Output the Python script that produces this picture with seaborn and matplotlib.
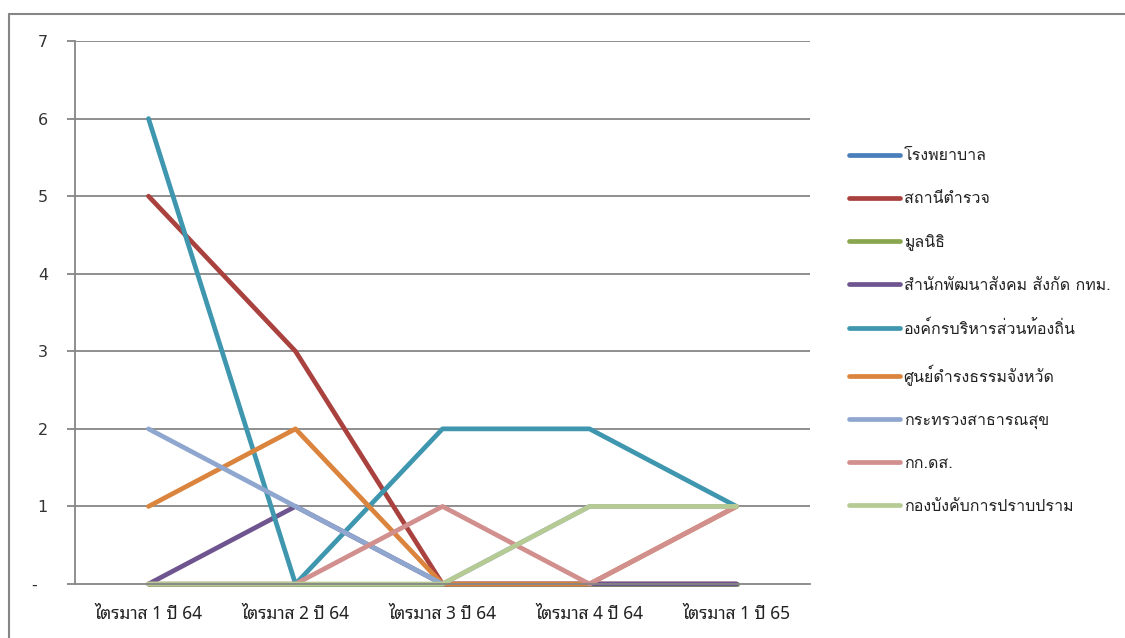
import matplotlib
matplotlib.use("Agg")
import matplotlib.pyplot as plt
from matplotlib.lines import Line2D
import seaborn as sns
import pandas as pd
import numpy as np

# Quarters
quarters = ["ไตรมาส 1 ปี 64", "ไตรมาส 2 ปี 64", "ไตรมาส 3 ปี 64",
            "ไตรมาส 4 ปี 64", "ไตรมาส 1 ปี 65"]

# Referral counts per agency
hospital = [0, 0, 0, 0, 0]
police = [5, 3, 0, 0, 0]
foundation = [0, 0, 0, 0, 0]
bma_social = [0, 1, 0, 0, 0]
local_admin = [6, 0, 2, 2, 1]
justice_center = [1, 2, 0, 0, 1]
public_health = [2, 1, 0, 1, 1]
kkds = [0, 0, 1, 0, 1]
suppression = [0, 0, 0, 1, 1]

agencies = ["โรงพยาบาล", "สถานีตำรวจ", "มูลนิธิ",
            "สำนักพัฒนาสังคม สังกัด กทม.", "องค์กรบริหารส่วนท้องถิ่น",
            "ศูนย์ดำรงธรรมจังหวัด", "กระทรวงสาธารณสุข", "กก.ดส.",
            "กองบังคับการปราบปราม"]
series = [hospital, police, foundation, bma_social, local_admin,
          justice_center, public_health, kkds, suppression]
colors = ["#4A7EBB", "#A9423F", "#89A54E", "#6F5590", "#3E96AF",
          "#DB843D", "#8FA7CF", "#D18F8E", "#B6CB93"]

y_ticks = [0, 1, 2, 3, 4, 5, 6, 7]
y_labels = ["-  ", "1", "2", "3", "4", "5", "6", "7"]

rows = []
for name, vals in zip(agencies, series):
    for i, v in enumerate(vals):
        rows.append({"quarter": i, "agency": name, "count": v})
df = pd.DataFrame(rows)

sns.set_theme(style="white")
thai = ["Loma", "Noto Sans Thai Looped", "DejaVu Sans"]
plt.rcParams["font.family"] = thai

grey = "#868686"
fig = plt.figure(figsize=(11.25, 6.38), dpi=100)
ax = fig.add_axes([75 / 1125, 1 - 584 / 638, 735 / 1125, 543 / 638])

sns.lineplot(data=df, x="quarter", y="count", hue="agency",
             hue_order=agencies, palette=colors, linewidth=3.4,
             ax=ax, legend=False, sort=False)
for ln in ax.get_lines():
    ln.set_solid_capstyle("round")
    ln.set_solid_joinstyle("round")
    ln.set_clip_on(False)

ax.set_xlim(-0.5, 4.5)
ax.set_ylim(0, 7)
ax.set_xlabel("")
ax.set_ylabel("")

# category labels at centres, tick marks on the boundaries
ax.set_xticks(range(len(quarters)))
ax.set_xticklabels(quarters, fontsize=12.5, color="#222222",
                   family=["Noto Sans Thai Looped", "DejaVu Sans"])
ax.tick_params(axis="x", which="major", length=0, pad=15)
ax.set_xticks(np.arange(-0.5, 5, 1), minor=True)
ax.tick_params(axis="x", which="minor", length=6, width=1.3, color=grey,
               direction="out")

ax.set_yticks(y_ticks)
ax.set_yticklabels(y_labels, fontsize=11.5, color="#333333",
                   family=["DejaVu Sans"])
ax.tick_params(axis="y", length=5.5, width=1.3, color=grey, direction="out",
               pad=14, left=True)

for y in y_ticks[1:]:
    ax.axhline(y, color=grey, lw=1.3, zorder=0.5)

for side in ("top", "right"):
    ax.spines[side].set_visible(False)
for side in ("left", "bottom"):
    ax.spines[side].set_color(grey)
    ax.spines[side].set_linewidth(1.3)

handles = [Line2D([0], [0], color=c, lw=3.4, solid_capstyle="round")
           for c in colors]
fig.legend(handles, agencies, loc="upper left",
           bbox_to_anchor=(835 / 1125, 1 - 134 / 638), frameon=False,
           handlelength=3.2, handletextpad=0.2, labelspacing=1.68,
           prop={"family": thai, "size": 11.5}, labelcolor="#222222")

# outer chart frame (left and top edges)
fig.add_artist(Line2D([9 / 1125, 9 / 1125], [0, 1 - 14 / 638],
                      color=grey, lw=1.5, transform=fig.transFigure))
fig.add_artist(Line2D([9 / 1125, 1], [1 - 14 / 638, 1 - 14 / 638],
                      color=grey, lw=1.5, transform=fig.transFigure))

fig.savefig("out.png", dpi=100)
